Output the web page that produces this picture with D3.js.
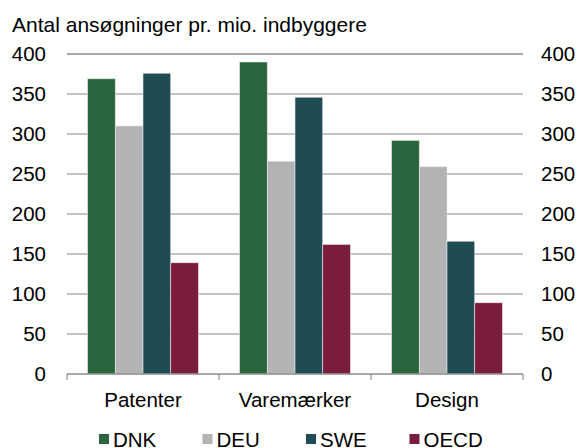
<!DOCTYPE html>
<html>
<head>
<meta charset="utf-8">
<script src="https://cdn.jsdelivr.net/npm/d3@7"></script>
<style>
  body { margin: 0; background: #fff; }
  text { font-family: "Liberation Sans", Arial, sans-serif; fill: #000; }
</style>
</head>
<body>
<div id="chart"></div>
<script>
// Chart data
const categories = ["Patenter", "Varemærker", "Design"];
const seriesNames = ["DNK", "DEU", "SWE", "OECD"];
const dnk = [369, 390, 292];
const deu = [310, 266, 259];
const swe = [376, 346, 166];
const oecd = [139, 162, 89];
const yTicks = [0, 50, 100, 150, 200, 250, 300, 350, 400];
const colors = ["#2a653f", "#b3b3b3", "#1f4b55", "#7a1d3c"];

const values = [dnk, deu, swe, oecd];
const width = 579, height = 448;
const margin = { top: 54, right: 56, bottom: 74, left: 67 };
const fs = "20.5px";

const svg = d3.select("#chart").append("svg")
  .attr("width", width)
  .attr("height", height);

const x0 = d3.scaleBand()
  .domain(categories)
  .range([margin.left, width - margin.right]);

const x1 = d3.scaleBand()
  .domain(seriesNames)
  .range([0, x0.bandwidth()])
  .paddingOuter(0.74);

const y = d3.scaleLinear()
  .domain([0, 400])
  .range([height - margin.bottom, margin.top]);

// Gridlines
svg.append("g")
  .selectAll("line")
  .data(yTicks.filter(d => d > 0))
  .join("line")
  .attr("x1", margin.left)
  .attr("x2", width - margin.right)
  .attr("y1", d => y(d))
  .attr("y2", d => y(d))
  .attr("stroke", d => d === 400 ? "#8c8c8c" : "#b0b0b0")
  .attr("stroke-width", 1.5);

// Bars
const groups = svg.append("g")
  .selectAll("g")
  .data(categories)
  .join("g")
  .attr("transform", d => `translate(${x0(d)},0)`);

groups.selectAll("rect")
  .data((c, i) => seriesNames.map((s, j) => ({ s, v: values[j][i], j })))
  .join("rect")
  .attr("x", d => x1(d.s))
  .attr("width", x1.bandwidth())
  .attr("y", d => y(d.v))
  .attr("height", d => y(0) - y(d.v))
  .attr("fill", d => colors[d.j])
  .attr("stroke", "#e8e8e8")
  .attr("stroke-width", 0.6);

// Baseline with category ticks
const xAxis = svg.append("g")
  .attr("transform", `translate(0,${y(0)})`);
xAxis.append("line")
  .attr("x1", margin.left)
  .attr("x2", width - margin.right)
  .attr("stroke", "#8c8c8c")
  .attr("stroke-width", 1.5);
const bounds = [margin.left].concat(categories.map(c => x0(c) + x0.bandwidth()));
xAxis.selectAll(".tk")
  .data(bounds)
  .join("line")
  .attr("class", "tk")
  .attr("x1", d => d)
  .attr("x2", d => d)
  .attr("y1", 0)
  .attr("y2", 6)
  .attr("stroke", "#8c8c8c")
  .attr("stroke-width", 1.2);
xAxis.selectAll("text")
  .data(categories)
  .join("text")
  .attr("x", d => x0(d) + x0.bandwidth() / 2)
  .attr("y", 33)
  .attr("text-anchor", "middle")
  .style("font-size", fs)
  .text(d => d);

// Y tick labels, both sides
svg.append("g").selectAll("text")
  .data(yTicks)
  .join("text")
  .attr("x", 46)
  .attr("y", d => y(d) + 7)
  .attr("text-anchor", "end")
  .style("font-size", fs)
  .text(d => d);

svg.append("g").selectAll("text")
  .data(yTicks)
  .join("text")
  .attr("x", 541)
  .attr("y", d => y(d) + 7)
  .attr("text-anchor", "start")
  .style("font-size", fs)
  .text(d => d);

// Title
svg.append("text")
  .attr("x", 12)
  .attr("y", 32)
  .style("font-size", "21px")
  .text("Antal ansøgninger pr. mio. indbyggere");

// Legend
const legend = svg.append("g")
  .selectAll("g")
  .data(seriesNames)
  .join("g")
  .attr("transform", (d, i) => `translate(${99 + i * 103.5},434)`);
legend.append("rect")
  .attr("width", 10)
  .attr("height", 10)
  .attr("fill", (d, i) => colors[i]);
legend.append("text")
  .attr("x", 14)
  .attr("y", 12.5)
  .style("font-size", fs)
  .text(d => d);
</script>
</body>
</html>
